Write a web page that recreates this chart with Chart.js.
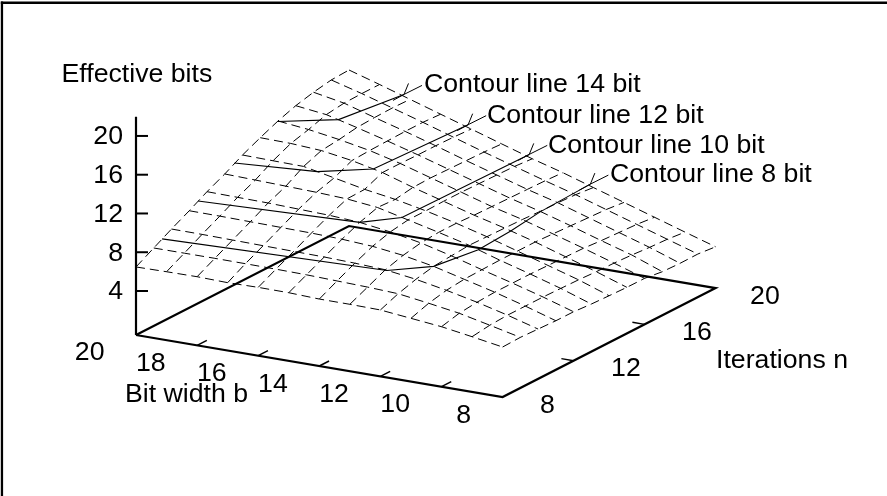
<!DOCTYPE html>
<html>
<head>
    <title>Effective bits surface</title>
    <script src="https://cdn.jsdelivr.net/npm/chart.js"></script>
    <style>
        html, body { margin: 0; padding: 0; background: #fff; }
        canvas { display: block; }
    </style>
</head>
<body>
    <canvas id="chart" width="887" height="496"></canvas>

<script>
const bitWidths = [20, 19, 18, 17, 16, 15, 14, 13, 12, 11, 10, 9, 8];
const iterations = [8, 9, 10, 11, 12, 13, 14, 15, 16, 17, 18, 19, 20];

// one row per iteration count, columns follow bitWidths
const n8  = [6.48, 6.52, 6.54, 6.46, 6.51, 6.49, 6.37, 6.36, 6.31, 5.98, 5.65, 5.15, 4.62];
const n9  = [7.5, 7.5, 7.5, 7.48, 7.45, 7.4, 7.3, 7.2, 7.05, 6.6, 6.1, 5.4, 4.68];
const n10 = [8.52, 8.5, 8.45, 8.4, 8.35, 8.3, 8.2, 8.05, 7.6, 7.0, 6.3, 5.5, 4.6];
const n11 = [9.47, 9.45, 9.4, 9.35, 9.3, 9.2, 9.0, 8.6, 8.0, 7.2, 6.4, 5.5, 4.52];
const n12 = [10.5, 10.45, 10.4, 10.3, 10.2, 10.0, 9.55, 8.95, 8.15, 7.25, 6.4, 5.5, 4.51];
const n13 = [11.39, 11.3, 11.2, 11.1, 10.95, 10.6, 9.85, 9.1, 8.3, 7.3, 6.4, 5.45, 4.37];
const n14 = [12.41, 12.35, 12.3, 11.65, 11.0, 10.5, 9.85, 9.1, 8.25, 7.3, 6.35, 5.4, 4.29];
const n15 = [13.26, 13.2, 13.0, 12.5, 11.8, 10.8, 9.9, 9.0, 8.2, 7.3, 6.3, 5.3, 4.22];
const n16 = [14.05, 13.7, 13.2, 12.6, 11.8, 10.85, 9.9, 8.95, 8.15, 7.2, 6.25, 5.25, 4.21];
const n17 = [14.69, 14.3, 13.5, 12.65, 11.75, 10.8, 9.85, 8.9, 8.05, 7.1, 6.1, 5.15, 3.96];
const n18 = [15.14, 14.55, 13.6, 12.7, 11.75, 10.75, 9.8, 8.85, 8.0, 7.0, 6.0, 5.0, 3.89];
const n19 = [15.47, 14.6, 13.65, 12.7, 11.7, 10.7, 9.75, 8.8, 7.9, 6.9, 5.9, 4.9, 3.91];
const n20 = [15.56, 14.6, 13.6, 12.6, 11.6, 10.6, 9.6, 8.7, 7.7, 6.7, 5.7, 4.7, 3.72];
const surfaceRows = [n8, n9, n10, n11, n12, n13, n14, n15, n16, n17, n18, n19, n20];

// contour lines as [b, n] pairs on the surface
const contour14 = [[20, 16], [18.6, 17], [18.2, 20]];
const contour12 = [[20, 13.55], [17.55, 14], [16.3, 15], [16.1, 20]];
const contour10 = [[20, 11.5], [15, 12], [14.2, 13], [14.1, 20]];
const contour8  = [[20, 9.47], [12.95, 10], [12, 11], [11.7, 13], [11.8, 15], [12, 17], [12.1, 20]];
const contourLevels = [14, 12, 10, 8];
const contourLines = [contour14, contour12, contour10, contour8];

const zTicks = [4, 8, 12, 16, 20];
const bTicks = [20, 18, 16, 14, 12, 10, 8];
const nTicks = [8, 12, 16, 20];

const zBase = -0.54;
const zTop = 21.98;
const FONT = '26.7px "Liberation Sans", Arial, sans-serif';

// view of the box, same idea as gnuplot's splot
function project(b, n, z) {
    return {
        x: 136 + 30.55 * (20 - b) + 17.75 * (n - 8),
        y: 329.75 + 5.17 * (20 - b) - 9.08 * (n - 8) - 9.69 * z
    };
}

function line(data, width, dash) {
    return {
        data: data,
        showLine: true,
        pointRadius: 0,
        borderColor: '#000',
        borderWidth: width,
        borderDash: dash || [],
        borderCapStyle: 'butt',
        tension: 0,
        fill: false
    };
}

const datasets = [];

// mesh
surfaceRows.forEach((row, i) => {
    datasets.push(line(row.map((z, j) => project(bitWidths[j], iterations[i], z)), 1, [9, 5]));
});
bitWidths.forEach((b, j) => {
    datasets.push(line(surfaceRows.map((row, i) => project(b, iterations[i], row[j])), 1, [9, 5]));
});

// contour lines and their arrows
contourLines.forEach((c, i) => {
    const pts = c.map(p => project(p[0], p[1], contourLevels[i]));
    datasets.push(line(pts, 1.1));
    const end = pts[pts.length - 1];
    datasets.push(line([{ x: end.x + 18, y: end.y - 9 }, end], 1));
    datasets.push(line([{ x: end.x + 4.5, y: end.y - 11 }, end, { x: end.x - 11, y: end.y + 6 }], 1));
});

// box floor and axes
datasets.push(line([
    project(20, 8, zBase), project(8, 8, zBase), project(8, 20, zBase),
    project(20, 20, zBase), project(20, 8, zBase)
], 2.2));
datasets.push(line([project(20, 8, zBase), project(20, 8, zTop)], 2.2));
zTicks.forEach(z => {
    const p = project(20, 8, z);
    datasets.push(line([p, { x: p.x + 12, y: p.y }], 2));
});
bTicks.slice(1, -1).forEach(b => {
    datasets.push(line([project(b, 8, zBase), project(b, 8.55, zBase)], 1.5));
});
nTicks.slice(1, -1).forEach(n => {
    datasets.push(line([project(8, n, zBase), project(8.4, n, zBase)], 1.5));
});

const textPlugin = {
    id: 'textPlugin',
    afterDraw(chart) {
        const ctx = chart.ctx;
        ctx.save();
        // frame only shows on the top and left of the page
        ctx.fillStyle = '#000';
        ctx.fillRect(0.8, 1.5, 886.2, 2.5);
        ctx.fillRect(0.8, 1.5, 2.3, 494.5);

        ctx.font = FONT;
        ctx.textBaseline = 'alphabetic';

        ctx.textAlign = 'right';
        zTicks.forEach(z => {
            const p = project(20, 8, z);
            ctx.fillText(String(z), 123, p.y + 8.5);
        });
        bTicks.forEach(b => {
            const p = project(b, 8, zBase);
            ctx.fillText(String(b), p.x - 31.5, p.y + 25.5);
        });

        ctx.textAlign = 'left';
        nTicks.forEach(n => {
            const p = project(8, n, zBase);
            ctx.fillText(String(n), p.x + (n === 20 ? 34.5 : 37.5), p.y + 15.7);
        });

        ctx.fillText('Effective bits', 61.5, 81.7);
        ctx.fillText('Bit width b', 125, 401.7);
        ctx.fillText('Iterations n', 716, 367.7);
        ctx.fillText('Contour line 14 bit', 424, 92);
        ctx.fillText('Contour line 12 bit', 487, 122.7);
        ctx.fillText('Contour line 10 bit', 548, 152.7);
        ctx.fillText('Contour line 8 bit', 610, 181.7);
        ctx.restore();
    }
};

new Chart(document.getElementById('chart'), {
    type: 'scatter',
    data: { datasets: datasets },
    options: {
        responsive: false,
        animation: false,
        layout: { padding: 0 },
        plugins: { legend: { display: false }, tooltip: { enabled: false } },
        scales: {
            x: { type: 'linear', min: 0, max: 887, display: false },
            y: { type: 'linear', min: 0, max: 496, reverse: true, display: false }
        }
    },
    plugins: [textPlugin]
});
</script>
</body>
</html>
